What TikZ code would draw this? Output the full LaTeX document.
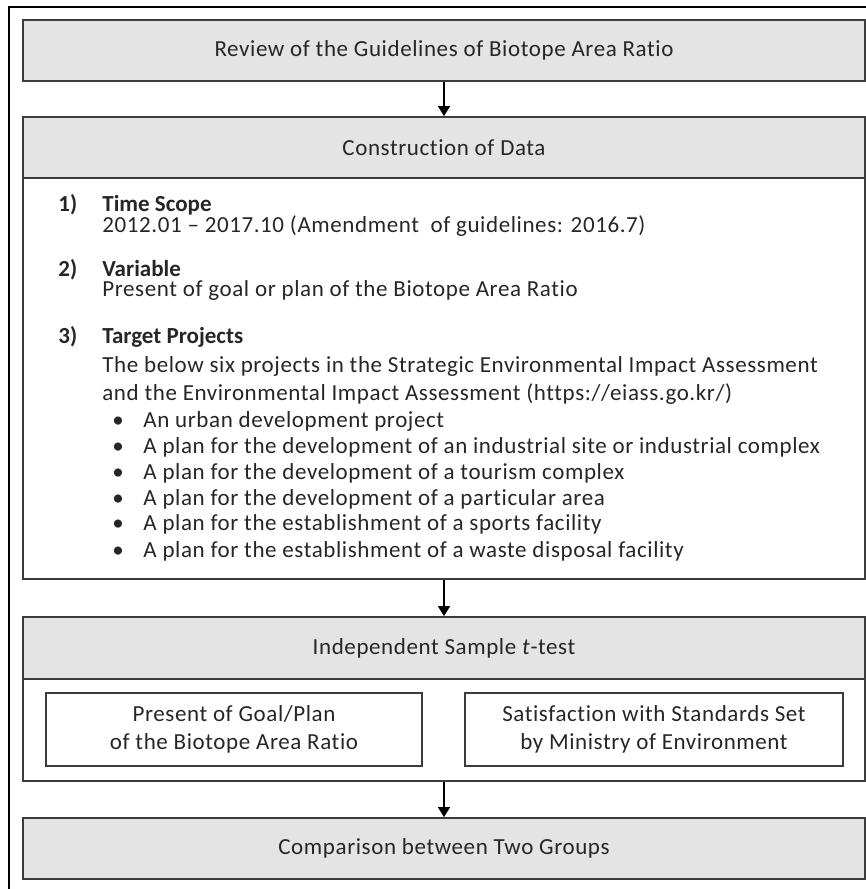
\documentclass[tikz,border=0pt]{standalone}
\usepackage{fontspec}
\setmainfont{Carlito}[Ligatures=NoCommon,LetterSpace=2.6,BoldFeatures={LetterSpace=0.0}]
\usepackage{tikz}
\usetikzlibrary{arrows.meta}
\usetikzlibrary{positioning}
\definecolor{headgray}{RGB}{228,228,228}
\definecolor{linegray}{RGB}{60,60,60}
\definecolor{txtgray}{RGB}{38,38,38}

\begin{document}
\begin{tikzpicture}[x=0.5pt,y=-0.5pt]
		  \tikzset{
			box/.style={draw=linegray,line width=0.9pt,minimum width=421pt,inner sep=0pt,
			  text=txtgray,font=\fontsize{11.5}{14}\selectfont},
			head/.style={box,fill=headgray,minimum height=30.5pt},
			inbox/.style={box,minimum width=188pt,minimum height=36.5pt,align=center},
			txt/.style={anchor=base west,inner sep=0pt,text=txtgray,font=\fontsize{11.5}{14}\selectfont},
			flow/.style={-{Triangle[width=6pt,length=5pt]},line width=0.8pt,black},
		  }
		  \useasboundingbox (0,0) rectangle (866,889);
		  %FRAME
		  \draw[black,line width=0.6pt] (9,889) -- (9,7) -- (866,7);
		  %BOX REVIEW
		  \node[head] (review) at (444,50.5) {Review of the Guidelines of Biotope Area Ratio};
		  %BOX DATA
		  \node[head] (data) at (444,147.5) {Construction of Data};
		  \node[box,minimum height=200.5pt] (databody) at (444,378.5) {};
		  %ITEMS
		  \foreach \n/\y/\t in {1/211/Time Scope,2/276/Variable,3/343/Target Projects}{
			\node[txt,font=\fontsize{11.5}{14}\selectfont\bfseries] (num\n) at (58,\y) {\n)};
			\node[txt,font=\fontsize{11.5}{14}\selectfont\bfseries] (item\n) at (102,\y) {\t};
		  }
		  \node[txt] (scope) at (102,232) {2012.01 – 2017.10 (Amendment~ of guidelines: 2016.7)};
		  \node[txt] (var) at (102,296) {Present of goal or plan of the Biotope Area Ratio};
		  \node[txt] (target1) at (102,372) {The below six projects in the Strategic Environmental Impact Assessment};
		  \node[txt] (target2) at (102,400) {and the Environmental Impact Assessment (https://eiass.go.kr/)};
		  %BULLETS
		  \foreach \y/\t [count=\i] in {427/An urban development project,
			453/A plan for the development of an industrial site or industrial complex,
			479/A plan for the development of a tourism complex,
			505/A plan for the development of a particular area,
			530/A plan for the establishment of a sports facility,
			557/A plan for the establishment of a waste disposal facility}{
			\node[txt] (dot\i) at (112,\y) {\textbullet};
			\node[txt] (proj\i) at (143,\y) {\t};
		  }
		  %BOX TEST
		  \node[head,minimum height=31pt] (test) at (444,648) {Independent Sample \textit{t}-test};
		  \node[box,minimum height=51pt] (testbody) at (444,730) {};
		  \node[inbox] (goal) at (234,729.5) {Present of Goal/Plan\\of the Biotope Area Ratio};
		  \node[inbox,minimum width=189pt] (std) at (654,729.5) {Satisfaction with Standards Set\\by Ministry of Environment};
		  %BOX COMPARISON
		  \node[head] (comp) at (444,848.5) {Comparison between Two Groups};
		  %ARROWS
		  \draw[flow] (review) -- (data);
		  \draw[flow] (databody) -- (test);
		  \draw[flow] (testbody) -- (comp);
		  \end{tikzpicture}
\end{document}
